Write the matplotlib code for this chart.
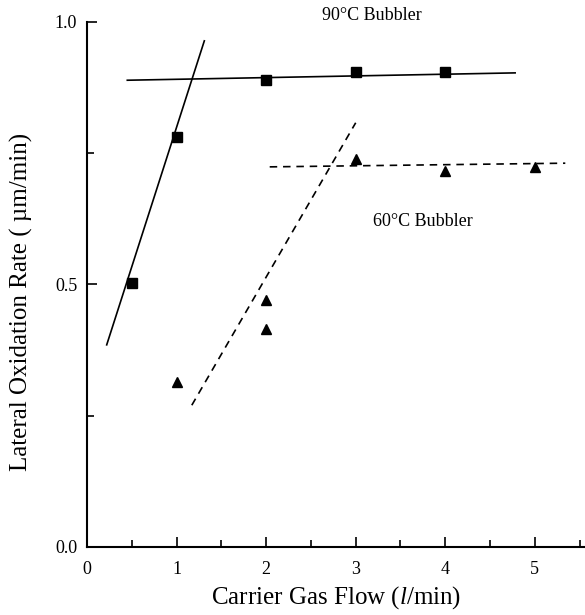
import matplotlib.pyplot as plt
from matplotlib.ticker import MultipleLocator

plt.rcParams['font.family'] = ['Liberation Serif', 'DejaVu Serif']
plt.rcParams['mathtext.fontset'] = 'custom'
plt.rcParams['mathtext.rm'] = 'Liberation Serif'
plt.rcParams['mathtext.it'] = 'Liberation Serif:italic'

# 90C bubbler data (squares)
flow_90 = [0.5, 1.0, 2.0, 3.0, 4.0]
rate_90 = [0.503, 0.781, 0.889, 0.905, 0.905]
# 60C bubbler data (triangles)
flow_60 = [1.0, 2.0, 2.0, 3.0, 4.0, 5.0]
rate_60 = [0.314, 0.47, 0.415, 0.739, 0.716, 0.724]

# hand-drawn guide lines (x, y endpoints)
fit90_rise_x = [0.22, 1.31]
fit90_rise_y = [0.385, 0.964]
fit90_flat_x = [0.45, 4.78]
fit90_flat_y = [0.889, 0.903]
fit60_rise_x = [1.17, 3.0]
fit60_rise_y = [0.27, 0.808]
fit60_flat_x = [2.04, 5.34]
fit60_flat_y = [0.724, 0.731]

fig = plt.figure(figsize=(5.85, 6.15), dpi=100)
ax = fig.add_axes([0.1487, 0.1106, 0.8513, 0.8537])

ax.plot(fit90_rise_x, fit90_rise_y, color='black', lw=1.2)
ax.plot(fit90_flat_x, fit90_flat_y, color='black', lw=1.2)
ax.plot(fit60_rise_x, fit60_rise_y, color='black', lw=1.2, ls=(0, (4.5, 3.5)))
ax.plot(fit60_flat_x, fit60_flat_y, color='black', lw=1.2, ls=(0, (4.5, 3.5)))

ax.plot(flow_90, rate_90, 's', color='black', ms=7, zorder=3)
ax.plot(flow_60, rate_60, '^', color='black', ms=7, zorder=3)

ax.text(3.18, 1.013, '90°C Bubbler', ha='center', va='center', fontsize=13)
ax.text(3.75, 0.619, '60°C Bubbler', ha='center', va='center', fontsize=13)

ax.set_xlim(0, 5.56)
ax.set_ylim(0, 1.0)
ax.xaxis.set_major_locator(MultipleLocator(1))
ax.xaxis.set_minor_locator(MultipleLocator(0.5))
ax.yaxis.set_major_locator(MultipleLocator(0.5))
ax.yaxis.set_minor_locator(MultipleLocator(0.25))
ax.tick_params(which='both', direction='in', labelsize=13, width=1.2)
ax.tick_params(which='major', length=7)
ax.tick_params(which='minor', length=5)
ax.tick_params(axis='x', pad=10)
ax.tick_params(axis='y', pad=7)
ax.set_yticks([0.0, 0.5, 1.0])
ax.set_yticklabels(['0.0', '0.5', '1.0'])

for s in ['top', 'right']:
    ax.spines[s].set_visible(False)
for s in ['left', 'bottom']:
    ax.spines[s].set_linewidth(1.5)

ax.set_xlabel('Carrier Gas Flow ($\\mathit{l}$/min)', fontsize=18)
ax.set_ylabel('Lateral Oxidation Rate ( µm/min)', fontsize=18)
ax.xaxis.set_label_coords(0.5, -0.07)
ax.yaxis.set_label_coords(-0.108, 0.467)

fig.savefig('out.png', dpi=100)
